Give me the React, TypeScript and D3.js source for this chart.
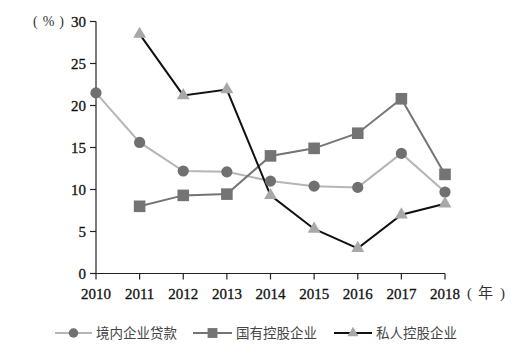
import React from "react";
import * as d3 from "d3";

const years = [2010, 2011, 2012, 2013, 2014, 2015, 2016, 2017, 2018];
const loans: (number | null)[] = [21.5, 15.6, 12.2, 12.1, 11.0, 10.4, 10.25, 14.3, 9.7];
const stateOwned: (number | null)[] = [null, 8.0, 9.3, 9.45, 14.0, 14.9, 16.7, 20.8, 11.8];
const privateOwned: (number | null)[] = [null, 28.5, 21.2, 21.9, 9.3, 5.3, 3.0, 7.0, 8.3];
const yTicks = [0, 5, 10, 15, 20, 25, 30];
const seriesNames = ["境内企业贷款", "国有控股企业", "私人控股企业"];

const W = 520;
const H = 355;
const serif = "'Liberation Serif', 'DejaVu Serif', serif";
const cjk = "'Noto Sans CJK SC', sans-serif";

export default function App() {
  const x = d3.scaleLinear().domain([2010, 2018]).range([96, 445]);
  const y = d3.scaleLinear().domain([0, 30]).range([273.5, 21.5]);

  const line = d3
    .line<[number, number | null]>()
    .defined((d) => d[1] !== null)
    .x((d) => x(d[0]))
    .y((d) => y(d[1] as number));

  const pts = (vals: (number | null)[]) =>
    years.map((yr, i) => [yr, vals[i]] as [number, number | null]);

  const circleC = "#707070";
  const loansLine = "#b5b5b5";
  const stateC = "#747474";
  const triC = "#a8a8a8";

  const tri = d3.symbol().type(d3.symbolTriangle).size(72)() as string;

  const legend = [
    { x0: 55, x1: 92, name: seriesNames[0], lineC: loansLine, marker: "circle" },
    { x0: 193, x1: 232, name: seriesNames[1], lineC: stateC, marker: "square" },
    { x0: 334, x1: 372, name: seriesNames[2], lineC: "#111", marker: "tri" },
  ];
  const ly = 333;

  const drawMarker = (m: string, cx: number, cy: number, key: string | number, small = false) => {
    const s = small ? 0.85 : 1;
    if (m === "circle") return <circle key={key} cx={cx} cy={cy} r={5.6 * s} fill={circleC} />;
    if (m === "square")
      return <rect key={key} x={cx - 5.8 * s} y={cy - 5.8 * s} width={11.6 * s} height={11.6 * s} fill={stateC} />;
    return <path key={key} d={tri} transform={`translate(${cx},${cy}) scale(${s})`} fill={triC} />;
  };

  return (
    <svg width={W} height={H} style={{ display: "block", position: "absolute", left: 0, top: 0 }}>
      <rect width={W} height={H} fill="#fff" />
      {/* axes */}
      <line x1={96} x2={96} y1={y(30)} y2={y(0)} stroke="#222" strokeWidth={1.2} />
      <line x1={96} x2={445} y1={y(0)} y2={y(0)} stroke="#222" strokeWidth={1.2} />
      {yTicks.map((t) => (
        <g key={t}>
          <line x1={90} x2={96} y1={y(t)} y2={y(t)} stroke="#222" strokeWidth={1.2} />
          <text x={86} y={y(t)} dy="0.35em" textAnchor="end" fontFamily={serif} fontSize={15} fill="#111" stroke="#111" strokeWidth={0.3}>
            {t}
          </text>
        </g>
      ))}
      <text x={33} y={y(30)} dy="0.35em" fontFamily={serif} fontSize={14} fill="#333">
        <tspan>(</tspan>
        <tspan dx={5}>%</tspan>
        <tspan dx={5}>)</tspan>
      </text>
      {years.map((yr) => (
        <g key={yr}>
          <line x1={x(yr)} x2={x(yr)} y1={y(0)} y2={y(0) + 6} stroke="#222" strokeWidth={1.2} />
          <text x={x(yr)} y={299} textAnchor="middle" fontFamily={serif} fontSize={15} fill="#111" stroke="#111" strokeWidth={0.3}>
            {yr}
          </text>
        </g>
      ))}
      <text x={467} y={298} fontFamily={serif} fontSize={15} fill="#333">
        <tspan>(</tspan>
        <tspan dx={6} fontFamily={cjk} fontSize={15}>年</tspan>
        <tspan dx={7}>)</tspan>
      </text>

      {/* lines */}
      <path d={line(pts(loans)) || ""} fill="none" stroke={loansLine} strokeWidth={2} />
      <path d={line(pts(stateOwned)) || ""} fill="none" stroke={stateC} strokeWidth={2} />
      <path d={line(pts(privateOwned)) || ""} fill="none" stroke="#111" strokeWidth={2} />

      {/* markers */}
      {years.map((yr, i) => (loans[i] !== null ? drawMarker("circle", x(yr), y(loans[i] as number), "c" + i) : null))}
      {years.map((yr, i) =>
        stateOwned[i] !== null ? drawMarker("square", x(yr), y(stateOwned[i] as number), "s" + i) : null
      )}
      {years.map((yr, i) =>
        privateOwned[i] !== null ? drawMarker("tri", x(yr), y(privateOwned[i] as number), "t" + i) : null
      )}

      {/* legend */}
      {legend.map((l, i) => (
        <g key={i}>
          <line x1={l.x0} x2={l.x1} y1={ly} y2={ly} stroke={l.lineC} strokeWidth={2} />
          {drawMarker(l.marker, (l.x0 + l.x1) / 2, ly, "lm" + i, true)}
          <text x={l.x1 + 4} y={ly} dy="0.35em" fontFamily={cjk} fontSize={13.5} fill="#444">
            {l.name}
          </text>
        </g>
      ))}
    </svg>
  );
}
